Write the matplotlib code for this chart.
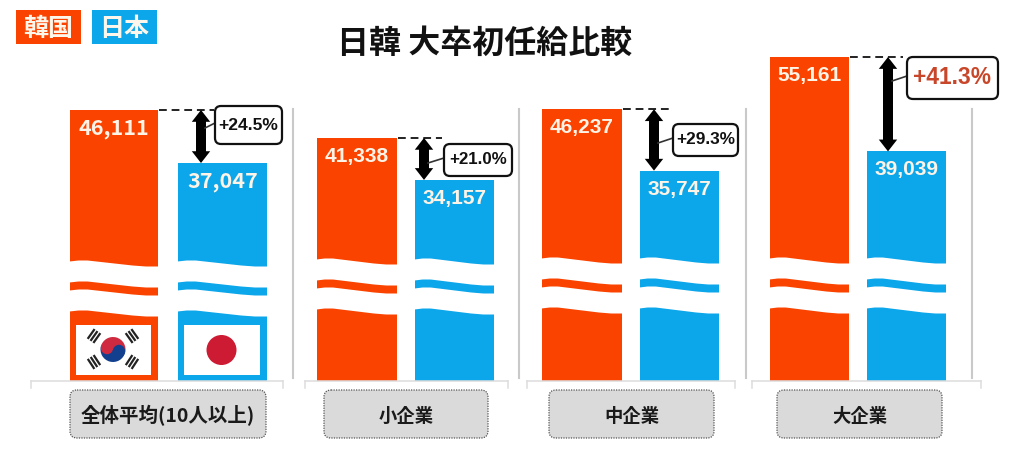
#!/usr/bin/env python3
"""Korea / Japan starting salary comparison, rebuilt as a broken-bar panel chart."""
import matplotlib
matplotlib.use("Agg")
import matplotlib.pyplot as plt
from matplotlib.patches import Circle, FancyArrowPatch, FancyBboxPatch, Rectangle, Wedge
import numpy as np

plt.rcParams["font.family"] = ["Noto Sans CJK JP", "DejaVu Sans"]

categories = ["全体平均(10人以上)", "小企業", "中企業", "大企業"]
korea = [46111, 41338, 46237, 55161]
japan = [37047, 34157, 35747, 39039]
gaps = ["+24.5%", "+21.0%", "+29.3%", "+41.3%"]

ORANGE = "#fb4300"
BLUE = "#0ca6ea"

# layout, in pixels of the 1024x449 canvas
kr_left = [70, 317, 542, 770]
jp_left = [178, 415, 640, 867]
bar_w = [88, 80, 80, 79]
jp_w = [89, 79, 79, 79]
arrow_x = [201, 424, 654, 888]
dash_end = [214, 442, 673, 903]
call_x = [215, 444, 673, 907]
call_w = [67, 68, 65, 91]
call_y = [106, 144, 124, 57]
call_h = [38, 32, 32, 42]
call_fs = [12.6, 12.2, 12.4, 16.4]
call_col = ["#111111", "#111111", "#111111", "#c8472a"]
box_x = [70, 324, 549, 777]
box_w = [196, 164, 165, 165]
cat_fs = [14, 13.2, 13.2, 13.2]
sep_x = [293, 519, 746, 972]
wave_dy = [3, 1, 0, 0]
ARROW = "simple,head_length=.5,head_width=.78,tail_width=.42"


def wave(t, y0):
    # same hand-drawn swoosh on each break
    return y0 + np.interp(t, [0, .1, .2, .45, .7, .85, 1], [0, -1, -1, 1.5, 4, 5, 5])


fig = plt.figure(figsize=(10.24, 4.49), dpi=100)
ax = fig.add_axes([0, 0, 1, 1])
ax.set_xlim(0, 1024)
# px = 110 + (46111 - v) * 0.00585
ax.set_ylim(46111 - 339 / 0.00585, 46111 + 110 / 0.00585)
ax.axis("off")
ov = fig.add_axes([0, 0, 1, 1])
ov.set_xlim(0, 1024)
ov.set_ylim(449, 0)
ov.axis("off")
ov.patch.set_alpha(0)
base = ax.get_ylim()[0] + (449 - 381) / 0.00585

for i in range(4):
    ax.bar(kr_left[i], korea[i] - base, bottom=base, width=bar_w[i], align="edge", color=ORANGE)
    ax.bar(jp_left[i], japan[i] - base, bottom=base, width=jp_w[i], align="edge", color=BLUE)
    for x0, w, v in ((kr_left[i], bar_w[i], korea[i]), (jp_left[i], jp_w[i], japan[i])):
        if i == 0:
            ax.text(x0 + w / 2, v - 3160, f"{v:,}", ha="center", va="center", color="#fdf3e6",
                    fontsize=15.5, fontweight="bold")
        else:
            ax.text(x0 + w / 2, v - 3160, f"{v:,}", ha="center", va="center", color="#fdf3e6",
                    fontsize=15, fontweight="bold", family="Liberation Sans")
        t = np.linspace(0, 1, 60)
        xs = x0 - 1 + t * (w + 2)
        dy = wave_dy[i]
        ov.fill_between(xs, wave(t, 258 + dy), wave(t, 279 + dy), color="white", lw=0)
        ov.fill_between(xs, wave(t, 287 + dy), wave(t, 308 + dy), color="white", lw=0)

    ax.plot([kr_left[i] + bar_w[i] + 1, dash_end[i]], [korea[i], korea[i]], color="#222222", lw=1.4,
            ls=(0, (4, 2.5)))
    mid = (korea[i] + japan[i]) / 2
    for end in (korea[i], japan[i]):
        ax.add_patch(FancyArrowPatch((arrow_x[i], mid), (arrow_x[i], end), arrowstyle=ARROW,
                                     mutation_scale=17, color="black", lw=0, shrinkA=0, shrinkB=0, zorder=4))
    # solid shaft over the seam of the two halves
    ax.plot([arrow_x[i], arrow_x[i]], [korea[i] - 1500, japan[i] + 1500], color="black", lw=7.1,
            solid_capstyle="butt", zorder=4)

    ov.plot([arrow_x[i] + 4, call_x[i]], [call_y[i] + call_h[i] / 2 + 3, call_y[i] + call_h[i] / 2 - 2],
            color="#333333", lw=1.2)
    ov.add_patch(FancyBboxPatch((call_x[i], call_y[i]), call_w[i], call_h[i],
                                boxstyle="round,pad=0,rounding_size=6", fc="white", ec="#111111", lw=1.6, zorder=5))
    ov.text(call_x[i] + call_w[i] / 2, call_y[i] + call_h[i] / 2, gaps[i], ha="center", va="center",
            fontsize=call_fs[i], fontweight="bold", color=call_col[i], zorder=6, family="Liberation Sans")

    ov.add_patch(FancyBboxPatch((box_x[i], 390), box_w[i], 48, boxstyle="round,pad=0,rounding_size=7",
                                fc="#dadada", ec="#555555", lw=.9, ls=(0, (1, 1))))
    ov.text(box_x[i] + box_w[i] / 2, 416, categories[i], ha="center", va="center",
            fontsize=cat_fs[i], fontweight="bold", color="#1a1a1a")

    ov.plot([sep_x[i], sep_x[i]], [109, 378], color="#c9c9c9", lw=1.5, zorder=0)

# baseline with small ticks between the panels
for x0, x1 in ((31, 283), (305, 508), (527, 735), (752, 981)):
    ov.plot([x0, x1], [381, 381], color="#dddddd", lw=1.1, zorder=0)
    ov.plot([x0, x0], [381, 388], color="#dddddd", lw=1.1, zorder=0)
    ov.plot([x1, x1], [381, 388], color="#dddddd", lw=1.1, zorder=0)

# flags
ov.add_patch(Rectangle((76, 325), 75, 50, fc="white", ec="none", zorder=3))
ov.add_patch(Rectangle((184, 325), 76, 50, fc="white", ec="none", zorder=3))
ov.add_patch(Circle((221.5, 350), 15, fc="#cc1b33", ec="none", zorder=4))
ov.add_patch(Wedge((113, 349.5), 12.5, 195, 15, fc="#cf2a3f", ec="none", zorder=4))
ov.add_patch(Wedge((113, 349.5), 12.5, 15, 195, fc="#12408f", ec="none", zorder=4))
ov.add_patch(Circle((107, 348), 6.2, fc="#cf2a3f", ec="none", zorder=4))
ov.add_patch(Circle((119, 351), 6.2, fc="#12408f", ec="none", zorder=4))
for cx, cy in ((94, 336), (132, 336), (94, 362), (132, 362)):
    d = np.array([113 - cx, 349.5 - cy], float)
    d /= np.hypot(*d)
    n = np.array([-d[1], d[0]])
    for k in (-3.5, 0, 3.5):
        c = np.array([cx, cy]) + d * k
        a, b = c - n * 6, c + n * 6
        ov.plot([a[0], b[0]], [a[1], b[1]], color="#222222", lw=1.6, zorder=4, solid_capstyle="butt")

# legend tags and title
for x0, col, lab in ((16, ORANGE, "韓国"), (92, BLUE, "日本")):
    ov.add_patch(Rectangle((x0, 10), 65, 34, fc=col, ec="none"))
    ov.text(x0 + 32.5, 29, lab, ha="center", va="center", color="#fdf6ea", fontsize=18, fontweight="bold")
ov.text(485, 44, "日韓 大卒初任給比較", ha="center", va="center", color="#111111", fontsize=23, fontweight="bold")

fig.savefig("out.png", dpi=100, facecolor="white")
